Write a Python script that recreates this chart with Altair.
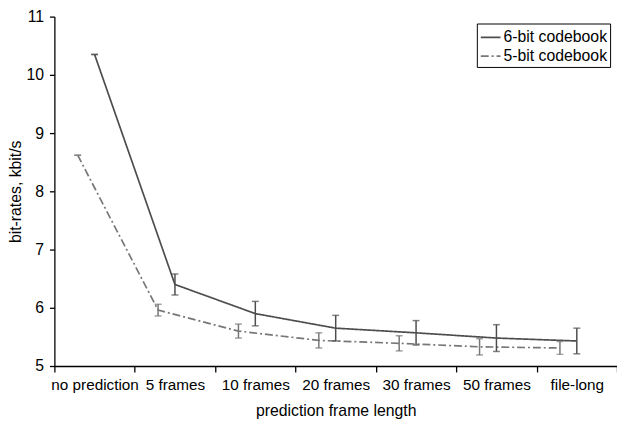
import json
import altair as alt
import pandas as pd

categories = ["no prediction", "5 frames", "10 frames", "20 frames",
              "30 frames", "50 frames", "file-long"]
series_names = ["6-bit codebook", "5-bit codebook"]
six_bit = [10.35, 6.40, 5.90, 5.65, 5.57, 5.48, 5.43]
six_err = [0.0, 0.18, 0.21, 0.22, 0.21, 0.23, 0.22]
five_bit = [8.62, 5.96, 5.60, 5.44, 5.39, 5.33, 5.31]
five_err = [0.0, 0.10, 0.12, 0.13, 0.13, 0.14, 0.11]
y_ticks = [5, 6, 7, 8, 9, 10, 11]

rows = []
for name, vals, errs, shift in [(series_names[0], six_bit, six_err, 0.5),
                                (series_names[1], five_bit, five_err, 0.29)]:
    for i, (v, e) in enumerate(zip(vals, errs)):
        rows.append(dict(series=name, pos=i + shift, value=v,
                         lo=v - e, hi=v + e, order=i))
df = pd.DataFrame(rows)

FONT = "Liberation Sans"
FS = 15.5
n = len(categories)

x_enc = alt.X("pos:Q",
              scale=alt.Scale(domain=[0, n], nice=False, zero=False),
              axis=alt.Axis(values=list(range(n + 1)),
                            labelExpr=f"datum.value < {n} ? {json.dumps(categories)}[datum.value] : ''",
                            labelOffset=40.7, labelFlush=False, labelOverlap=False,
                            grid=False, tickSize=6, labelPadding=6,
                            title="prediction frame length",
                            titleX=285, titleY=45, titleBaseline="middle",
                            titleFontSize=16, titleFontWeight="normal"))
y_enc = alt.Y("value:Q",
              scale=alt.Scale(domain=[5, 11], nice=False, zero=False),
              axis=alt.Axis(values=y_ticks, format="d", grid=False, tickSize=5,
                            labelPadding=6, labelFontSize=16,
                            title="bit-rates, kbit/s",
                            titleX=-39, titleY=177, titleBaseline="middle",
                            titleFontSize=16, titleFontWeight="normal"))

color_scale = alt.Scale(domain=series_names, range=["#4d4d4d", "#777777"])
dash_scale = alt.Scale(domain=series_names, range=[[1, 0], [8, 3, 2, 3]])
legend = alt.Legend(title=None, orient="none", legendX=428, legendY=7,
                    strokeColor="black", fillColor="white", padding=3,
                    symbolType="stroke", symbolSize=400, symbolStrokeWidth=1.7,
                    labelFontSize=16, labelFont=FONT, labelColor="black",
                    rowPadding=0, labelOffset=2)

base = alt.Chart(df)

lines = base.mark_line(strokeWidth=1.7).encode(
    x=x_enc, y=y_enc,
    color=alt.Color("series:N", scale=color_scale, legend=legend),
    strokeDash=alt.StrokeDash("series:N", scale=dash_scale, legend=legend),
    order="order:Q",
)

rules = base.mark_rule(strokeWidth=1.5).encode(
    x="pos:Q", y="lo:Q", y2="hi:Q",
    color=alt.Color("series:N", scale=color_scale, legend=None),
)

caps_top = base.mark_tick(orient="horizontal", size=7, thickness=1.5).encode(
    x="pos:Q", y="hi:Q",
    color=alt.Color("series:N", scale=color_scale, legend=None),
)
caps_bot = base.mark_tick(orient="horizontal", size=7, thickness=1.5).encode(
    x="pos:Q", y="lo:Q",
    color=alt.Color("series:N", scale=color_scale, legend=None),
)

chart = alt.layer(lines, rules, caps_top, caps_bot).properties(
    width=570, height=354,
    autosize=alt.AutoSizeParams(type="none"),
    padding={"left": 47, "top": 6, "right": 0, "bottom": 55},
    background="white",
).configure_view(stroke=None).configure_axis(
    labelFont=FONT, labelFontSize=FS, labelColor="black",
    titleFont=FONT, titleFontSize=16, titleColor="black",
    domainColor="black", tickColor="black", domainWidth=1.3, tickWidth=1.3,
)

chart.save("out.html", embed_options={"renderer": "svg", "actions": False})
